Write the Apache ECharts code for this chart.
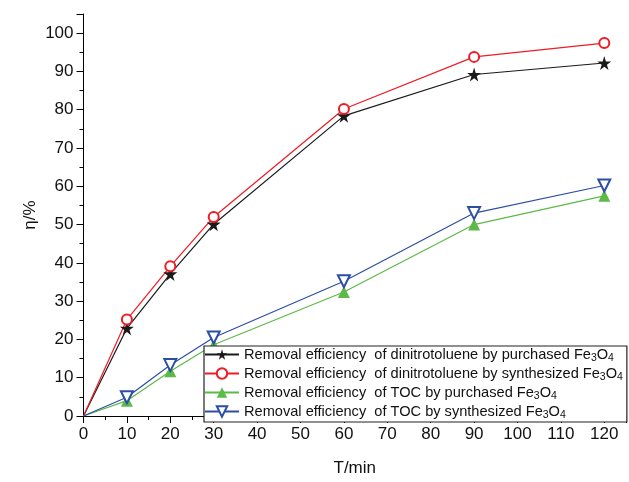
<!DOCTYPE html>
<html>
<head>
<meta charset="utf-8">
<script src="https://cdn.jsdelivr.net/npm/echarts@6/dist/echarts.min.js"></script>
<style>
  html, body { margin: 0; padding: 0; background: #fff; }
  #chart { width: 629px; height: 482px; }
</style>
</head>
<body>
<div id="chart"></div>
<script>
// time points (min)
const times = [0, 10, 20, 30, 60, 90, 120]

// removal efficiencies (%)
const dntPurchased = [0, 22.9, 37.1, 50.1, 78.4, 89.2, 92.2]
const dntSynthesized = [0, 25.2, 39.1, 52.0, 80.2, 93.8, 97.4]
const tocPurchased = [0, 4.0, 11.7, 18.6, 32.4, 50.0, 57.5]
const tocSynthesized = [0, 4.9, 13.3, 20.5, 35.2, 53.0, 60.2]

const seriesNames = [
    "Removal efficiency  of dinitrotoluene by purchased Fe3O4",
    "Removal efficiency  of dinitrotoluene by synthesized Fe3O4",
    "Removal efficiency  of TOC by purchased Fe3O4",
    "Removal efficiency  of TOC by synthesized Fe3O4"
]

const STAR = "path://M50,0 L61,35 L98,35 L68,57 L79,91 L50,70 L21,91 L32,57 L2,35 L39,35 Z"

// no marker drawn at the origin in the original figure
const pairs = (ys) => times.map((t, i) =>
    i === 0 ? { value: [t, ys[i]], symbol: "none" } : [t, ys[i]])

const chart = echarts.init(document.getElementById("chart"))

const axisCommon = {
    axisLine: { show: true, lineStyle: { color: "#000", width: 1 } },
    axisTick: { show: true, length: 7, lineStyle: { color: "#000" } },
    minorTick: { show: true, splitNumber: 2, length: 4, lineStyle: { color: "#000" } },
    splitLine: { show: false },
    axisLabel: { color: "#111", fontFamily: "Liberation Sans", fontSize: 17 },
    nameTextStyle: { color: "#111", fontFamily: "Liberation Sans", fontSize: 17 }
}

const option = {
    animation: false,
    grid: { left: 83.5, right: 2, top: 14, bottom: 60, containLabel: false },
    xAxis: {
        type: "value",
        min: 0,
        max: 125,
        interval: 10,
        name: "T/min",
        nameLocation: "middle",
        nameGap: 44,
        ...axisCommon,
        axisLabel: {
            ...axisCommon.axisLabel,
            margin: 10,
            formatter: v => v % 10 === 0 ? String(v) : ""
        }
    },
    yAxis: {
        type: "value",
        min: 0,
        max: 105,
        interval: 10,
        name: "η/%",
        nameLocation: "middle",
        nameGap: 45,
        nameMoveOverlap: false,
        ...axisCommon,
        axisLabel: {
            ...axisCommon.axisLabel,
            margin: 10,
            formatter: v => v % 10 === 0 ? String(v) : ""
        }
    },
    legend: {
        orient: "vertical",
        left: 204,
        top: 346,
        padding: [1, 4, 1, 0],
        itemGap: 2,
        itemWidth: 34,
        itemHeight: 13,
        backgroundColor: "#fff",
        borderColor: "#222",
        borderWidth: 1.2,
        borderRadius: 0,
        z: 10,
        formatter: name => {
            const base = name.replace(" Fe3O4", " Fe")
            return "{t|" + base + "}{s|3}{t|O}{s|4}"
        },
        textStyle: {
            color: "#111",
            rich: {
                t: { fontFamily: "Liberation Sans", fontSize: 14.6, color: "#111" },
                s: { fontFamily: "Liberation Sans", fontSize: 10.5, color: "#111", padding: [8, 0, 0, 0] }
            }
        },
        data: seriesNames
    },
    series: [
        {
            name: seriesNames[0],
            type: "line",
            data: pairs(dntPurchased),
            symbol: STAR,
            symbolSize: 14,
            lineStyle: { color: "#1a1a1a", width: 1.2 },
            itemStyle: { color: "#1a1a1a" }
        },
        {
            name: seriesNames[1],
            type: "line",
            data: pairs(dntSynthesized),
            symbol: "emptyCircle",
            symbolSize: 10,
            lineStyle: { color: "#ee1c24", width: 1.2 },
            itemStyle: { color: "#ee1c24", borderWidth: 1.3 }
        },
        {
            name: seriesNames[2],
            type: "line",
            data: pairs(tocPurchased),
            symbol: "triangle",
            symbolSize: 12,
            lineStyle: { color: "#5db948", width: 1.2 },
            itemStyle: { color: "#5db948" }
        },
        {
            name: seriesNames[3],
            type: "line",
            data: pairs(tocSynthesized),
            symbol: "emptyTriangle",
            symbolRotate: 180,
            symbolSize: 12,
            lineStyle: { color: "#2c4ea3", width: 1.2 },
            itemStyle: { color: "#2c4ea3", borderWidth: 1.3 }
        }
    ]
}

chart.setOption(option)
</script>
</body>
</html>
